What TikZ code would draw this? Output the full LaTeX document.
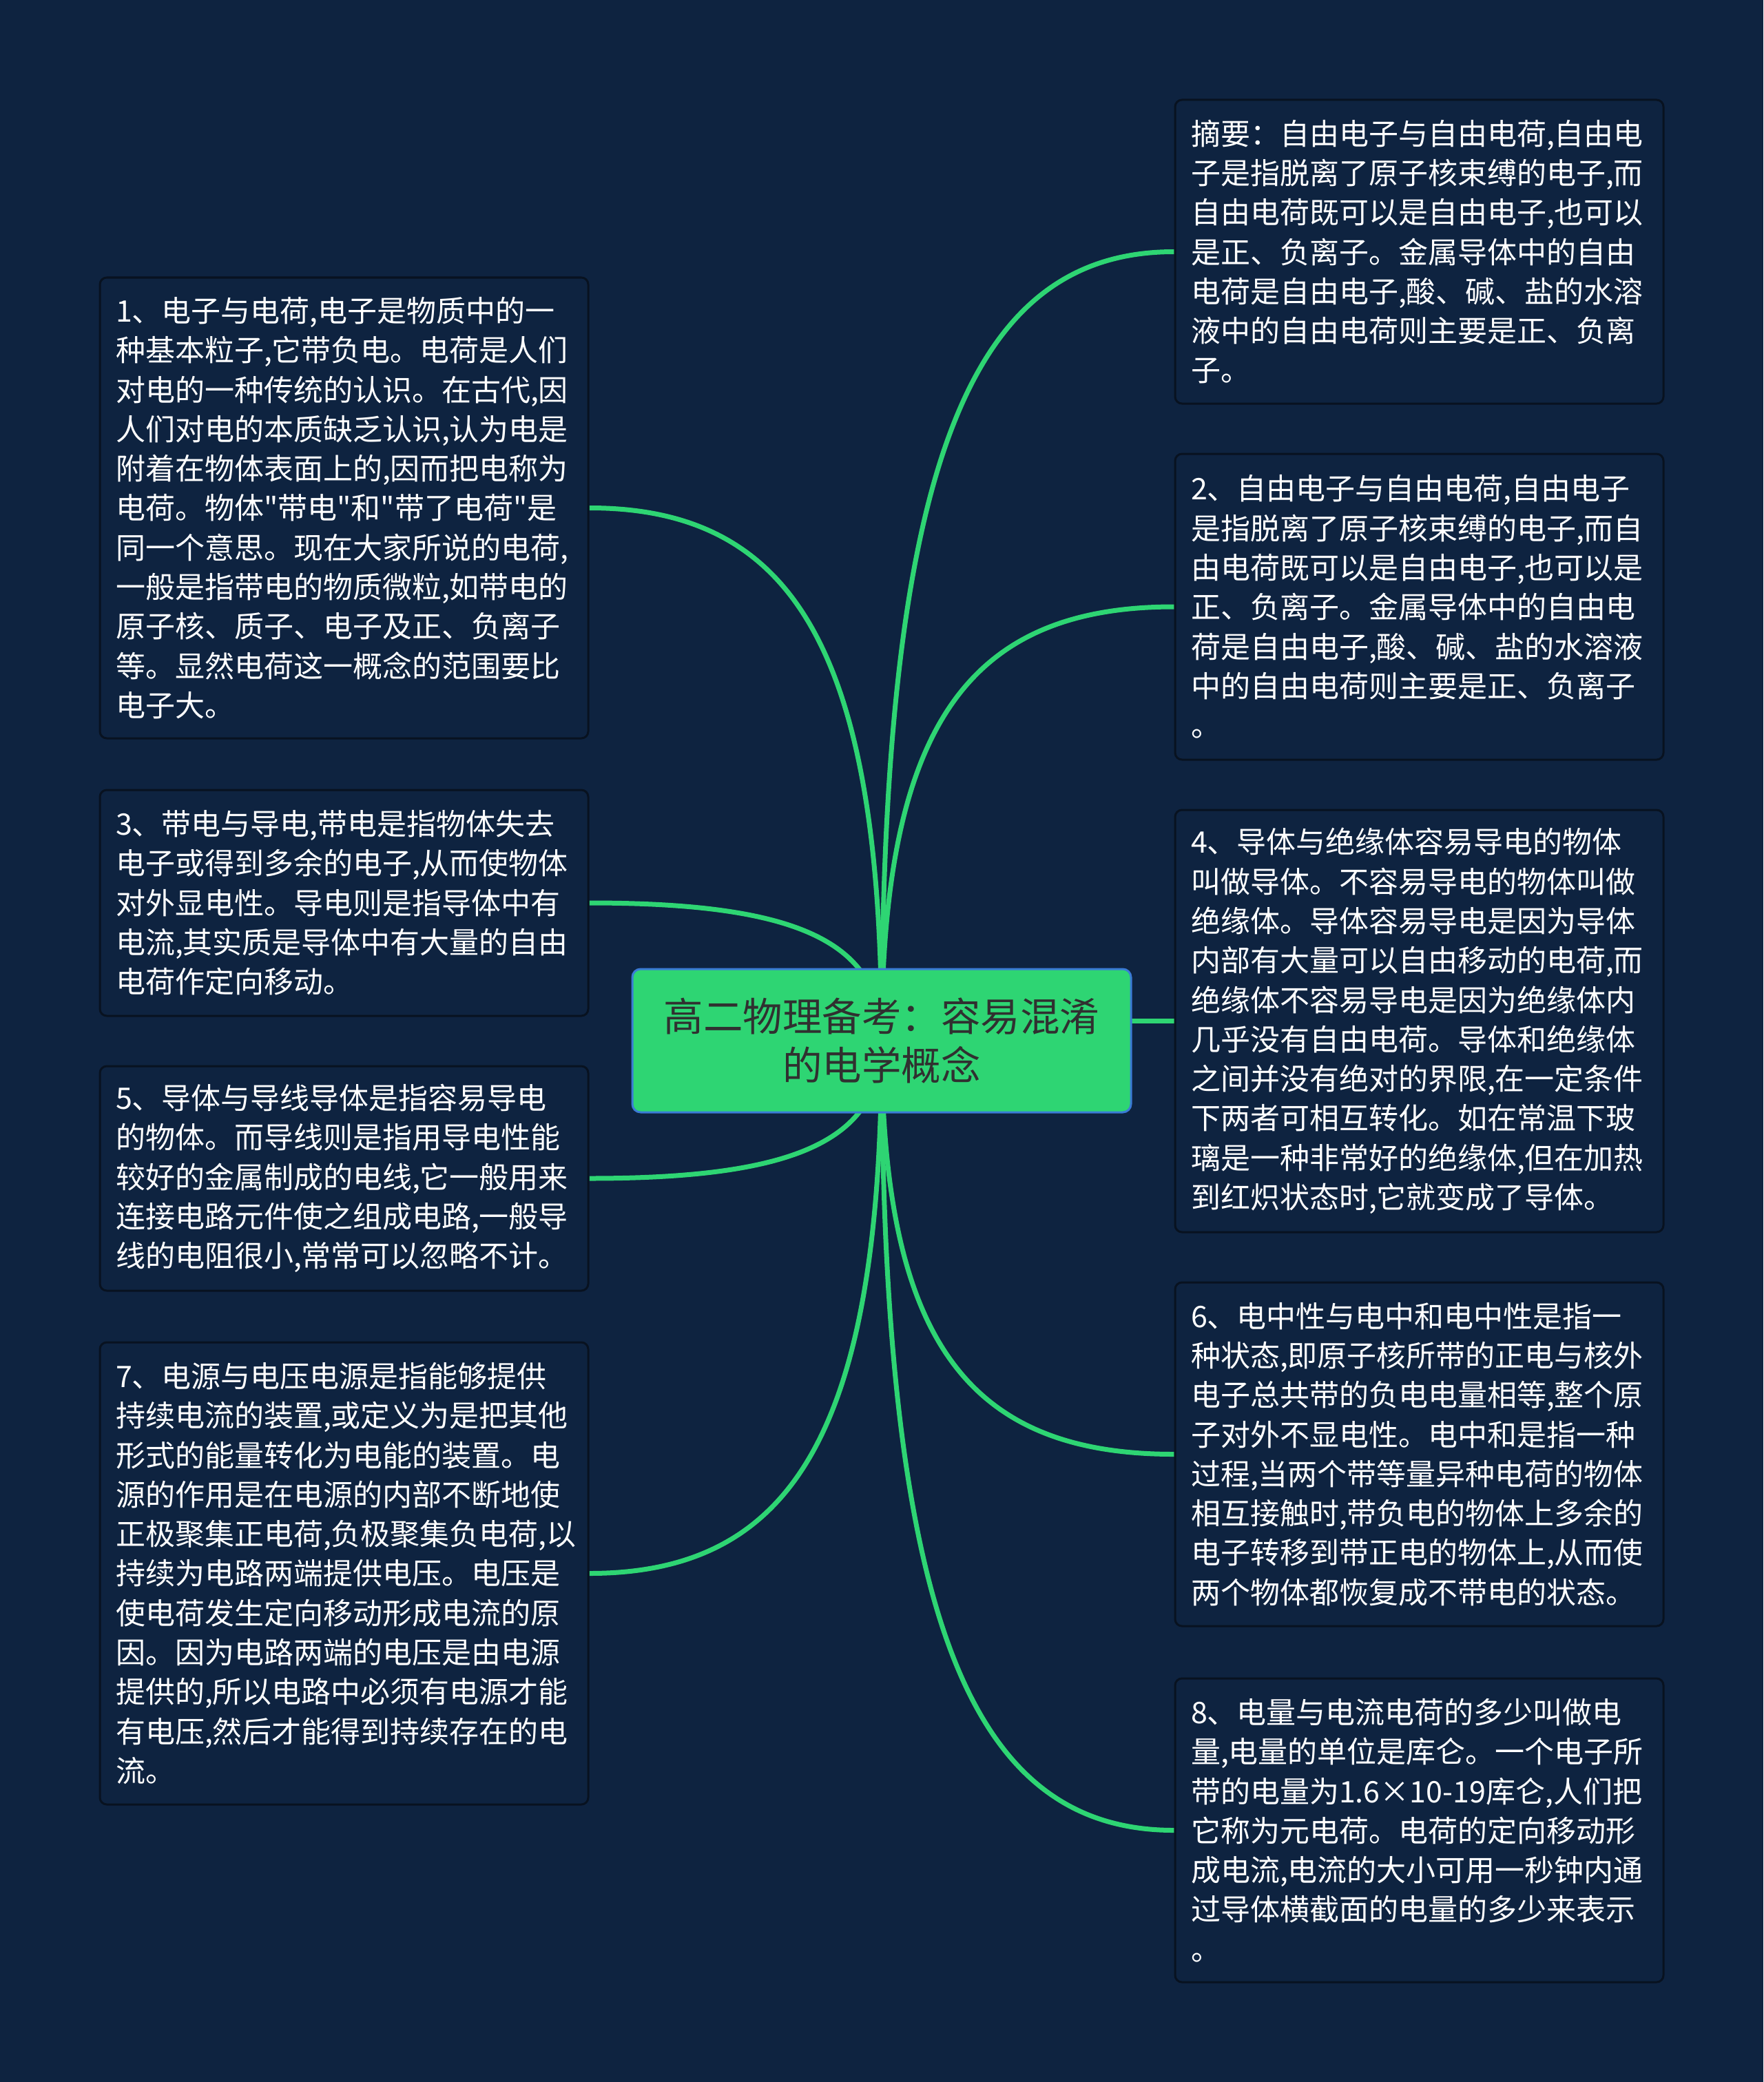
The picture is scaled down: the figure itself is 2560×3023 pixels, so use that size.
\documentclass[tikz,border=0pt]{standalone}
\usepackage{fontspec}
\setmainfont{Noto Sans CJK SC}[Ligatures=TeXOff]
\usetikzlibrary{calc}
\definecolor{bgc}{RGB}{14,35,64}
\definecolor{grn}{RGB}{46,213,115}
\definecolor{blu}{RGB}{58,123,213}
\definecolor{bdr}{RGB}{8,18,32}
\definecolor{ttl}{RGB}{48,48,48}
\pgfdeclarelayer{back}
\pgfdeclarelayer{lines}
\pgfsetlayers{back,lines,main}
\newcommand\conn[2]{\draw[conn] (#1) .. controls ($(#1)!0.7!(#1 -| #2)$) and ($(#2)!0.73!(#1 -| #2)$) .. (#2);}
\begin{document}
\begin{tikzpicture}[x=0.5pt,y=-0.5pt,
  txtbox/.style={draw=bdr, line width=1.5pt, fill=bgc, rounded corners=5pt, text=white,
    font=\fontsize{21.5pt}{28.65pt}\selectfont, text width=331.5pt, inner xsep=11.5pt,
    inner ysep=0pt, align=left},
  topic/.style={draw=blu, line width=1.5pt, fill=grn, rounded corners=6pt, text=ttl,
    font=\fontsize{28.75pt}{35.7pt}\selectfont, align=center, minimum width=362pt,
    minimum height=104pt, inner sep=0pt},
  conn/.style={draw=grn, line width=3.5pt}]
\begin{pgfonlayer}{back}
\fill[bgc] (0,0) rectangle (2560,3023);
\end{pgfonlayer}
\useasboundingbox (0,0) rectangle (2560,3023);

\node[topic] (c) at (1280,1511) {高二物理备考：容易混淆\\的电学概念};

\node[txtbox, minimum height=220.5pt] (s) at (2060.5,365.5) {摘要：自由电子与自由电荷,自由电\\子是指脱离了原子核束缚的电子,而\\自由电荷既可以是自由电子,也可以\\是正、负离子。金属导体中的自由\\电荷是自由电子,酸、碱、盐的水溶\\液中的自由电荷则主要是正、负离\\子。};

\node[txtbox, minimum height=222pt] (b2) at (2060.5,881) {2、自由电子与自由电荷,自由电子\\是指脱离了原子核束缚的电子,而自\\由电荷既可以是自由电子,也可以是\\正、负离子。金属导体中的自由电\\荷是自由电子,酸、碱、盐的水溶液\\中的自由电荷则主要是正、负离子\\。};

\node[txtbox, minimum height=306.5pt] (b4) at (2060.5,1482.5) {4、导体与绝缘体容易导电的物体\\叫做导体。不容易导电的物体叫做\\绝缘体。导体容易导电是因为导体\\内部有大量可以自由移动的电荷,而\\绝缘体不容易导电是因为绝缘体内\\几乎没有自由电荷。导体和绝缘体\\之间并没有绝对的界限,在一定条件\\下两者可相互转化。如在常温下玻\\璃是一种非常好的绝缘体,但在加热\\到红炽状态时,它就变成了导体。};

\node[txtbox, minimum height=249.5pt] (b6) at (2060.5,2111.5) {6、电中性与电中和电中性是指一\\种状态,即原子核所带的正电与核外\\电子总共带的负电电量相等,整个原\\子对外不显电性。电中和是指一种\\过程,当两个带等量异种电荷的物体\\相互接触时,带负电的物体上多余的\\电子转移到带正电的物体上,从而使\\两个物体都恢复成不带电的状态。};

\node[txtbox, minimum height=220.5pt] (b8) at (2060.5,2657.5) {8、电量与电流电荷的多少叫做电\\量,电量的单位是库仑。一个电子所\\带的电量为1.6×10-19库仑,人们把\\它称为元电荷。电荷的定向移动形\\成电流,电流的大小可用一秒钟内通\\过导体横截面的电量的多少来表示\\。};

\node[txtbox, minimum height=334.5pt] (b1) at (499.5,737.5) {1、电子与电荷,电子是物质中的一\\种基本粒子,它带负电。电荷是人们\\对电的一种传统的认识。在古代,因\\人们对电的本质缺乏认识,认为电是\\附着在物体表面上的,因而把电称为\\电荷。物体"带电"和"带了电荷"是\\同一个意思。现在大家所说的电荷,\\一般是指带电的物质微粒,如带电的\\原子核、质子、电子及正、负离子\\等。显然电荷这一概念的范围要比\\电子大。};

\node[txtbox, minimum height=164pt] (b3) at (499.5,1311) {3、带电与导电,带电是指物体失去\\电子或得到多余的电子,从而使物体\\对外显电性。导电则是指导体中有\\电流,其实质是导体中有大量的自由\\电荷作定向移动。};

\node[txtbox, minimum height=163pt] (b5) at (499.5,1711) {5、导体与导线导体是指容易导电\\的物体。而导线则是指用导电性能\\较好的金属制成的电线,它一般用来\\连接电路元件使之组成电路,一般导\\线的电阻很小,常常可以忽略不计。};

\node[txtbox, minimum height=335.5pt] (b7) at (499.5,2284.5) {7、电源与电压电源是指能够提供\\持续电流的装置,或定义为是把其他\\形式的能量转化为电能的装置。电\\源的作用是在电源的内部不断地使\\正极聚集正电荷,负极聚集负电荷,以\\持续为电路两端提供电压。电压是\\使电荷发生定向移动形成电流的原\\因。因为电路两端的电压是由电源\\提供的,所以电路中必须有电源才能\\有电压,然后才能得到持续存在的电\\流。};

\coordinate (o) at (c.center);

\begin{pgfonlayer}{lines}
\conn{s.west}{o}
\conn{b2.west}{o}
\conn{b1.east}{o}
\conn{b3.east}{o}
\conn{b5.east}{o}
\conn{b6.west}{o}
\conn{b8.west}{o}
\conn{b7.east}{o}
\draw[conn] (o |- b4.west) -- (b4.west);
\end{pgfonlayer}
\end{tikzpicture}
\end{document}
